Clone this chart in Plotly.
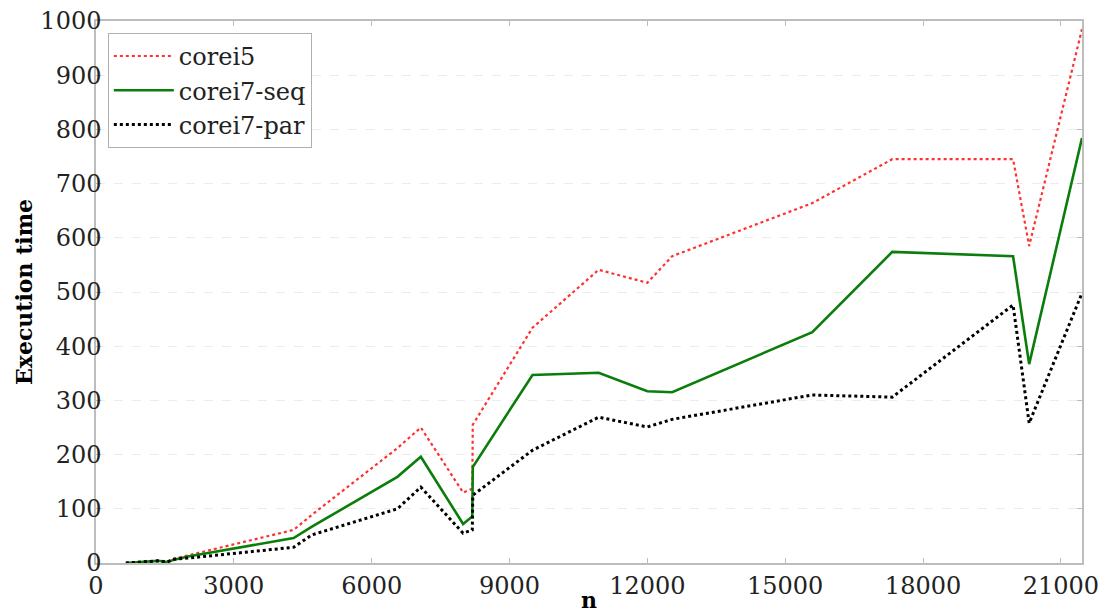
import plotly.graph_objects as go

# problem size n
n = [650, 1100, 1350, 1550, 1700, 2000, 4300, 4700, 6560, 7070, 7990,
     8190, 8200, 9500, 10940, 12000, 12540, 15590, 17330, 19960, 20310, 21460]

# execution times per machine / mode
corei5 = [0, 3, 4, 2, 8, 14, 61, 89, 212, 250, 130,
          137, 255, 434, 541, 517, 566, 664, 745, 745, 585, 985]
corei7_seq = [0, 3, 4, 2, 6, 12, 46, 67, 159, 196, 72,
              86, 177, 347, 351, 317, 315, 426, 574, 566, 367, 784]
corei7_par = [0, 3, 4, 2, 7, 9, 29, 52, 100, 140, 55,
              61, 125, 208, 269, 251, 265, 310, 306, 476, 258, 498]

x_ticks = list(range(0, 21001, 3000))
y_ticks = list(range(0, 1001, 100))

FONT = "DejaVu Serif"

fig = go.Figure()
fig.add_trace(go.Scatter(x=n, y=corei5, mode="lines", name="corei5",
                         legendgroup="a",
                         line=dict(color="#ff3030", width=2.2, dash="dot")))
fig.add_trace(go.Scatter(x=n, y=corei7_seq, mode="lines", name="corei7-seq",
                         legendgroup="b",
                         line=dict(color="#0a7d0a", width=2.6)))
fig.add_trace(go.Scatter(x=n, y=corei7_par, mode="lines", name="corei7-par",
                         legendgroup="c",
                         line=dict(color="black", width=3, dash="dot")))

fig.update_layout(
    width=1109, height=613,
    margin=dict(l=96, r=27, t=21, b=50, autoexpand=False),
    paper_bgcolor="white", plot_bgcolor="white",
    font=dict(family=FONT, size=24, color="#222222"),
    showlegend=True,
    legend=dict(x=0.012, y=0.978, xanchor="left", yanchor="top",
                bgcolor="white", bordercolor="#b0b0b0", borderwidth=1,
                font=dict(family=FONT, size=24, color="#222222"),
                itemwidth=60, tracegroupgap=5, traceorder="normal"),
)

fig.update_xaxes(
    range=[0, 21460], tickvals=x_ticks, ticktext=[str(v) for v in x_ticks],
    showgrid=False, zeroline=False, automargin=False,
    showline=True, linecolor="#bdbdbd", linewidth=1.5, mirror="ticks",
    ticks="inside", ticklen=5, tickcolor="#bdbdbd",
    tickfont=dict(family=FONT, size=24, color="#222222"),
    title=dict(text="<b>n</b>", font=dict(family=FONT, size=22, color="black"),
               standoff=4),
)
fig.update_yaxes(
    range=[0, 1000], tickvals=y_ticks, ticktext=[str(v) for v in y_ticks],
    showgrid=True, gridcolor="#ececec", griddash="dash", gridwidth=1,
    zeroline=False, automargin=False, ticklabelstandoff=-12,
    showline=True, linecolor="#bdbdbd", linewidth=1.5, mirror="ticks",
    ticks="inside", ticklen=5, tickcolor="#bdbdbd",
    tickfont=dict(family=FONT, size=24, color="#222222"),
    title=dict(text="<b>Execution time</b>",
               font=dict(family=FONT, size=22, color="black"), standoff=2),
)

fig.write_html("out.html")
